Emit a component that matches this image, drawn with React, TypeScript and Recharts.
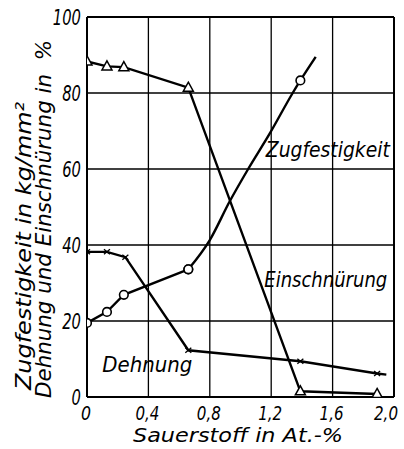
import React from 'react'
import {
  LineChart, Line, XAxis, YAxis, CartesianGrid, ReferenceLine, ReferenceDot
} from 'recharts'

const einX = [0, 0.13, 0.24, 0.66, 1.39, 1.89]
const einY = [88.3, 87, 86.8, 81.4, 1.5, 0.8]

const zugX = [0, 0.13, 0.24, 0.66, 0.8, 0.93, 1.05, 1.19, 1.34, 1.39, 1.49]
const zugY = [19.5, 22.4, 26.9, 33.6, 41.3, 51.5, 60, 69.3, 80, 83.3, 89.5]
const zugMark = [1, 1, 1, 1, 0, 0, 0, 0, 0, 1, 0]

const dehX = [0, 0.13, 0.25, 0.66, 1.39, 1.89, 1.95]
const dehY = [38.2, 38.2, 36.8, 12.3, 9.4, 6.2, 5.9]
const dehMark = [1, 1, 1, 1, 1, 1, 0]

const xTicks = [0, 0.4, 0.8, 1.2, 1.6, 2.0]
const yTicks = [0, 20, 40, 60, 80, 100]

const FONT = '"DejaVu Sans", sans-serif'
const txt = { fontFamily: FONT, fontStyle: 'italic' } as const

const einData = einX.map((x, i) => ({ x, y: einY[i], m: 1 }))
const zugData = zugX.map((x, i) => ({ x, y: zugY[i], m: zugMark[i] }))
const zugStraight = zugData.slice(0, 4)
const zugCurve = zugData.slice(3)
const dehData = dehX.map((x, i) => ({ x, y: dehY[i], m: dehMark[i] }))

const fmtX = (v: number) => (v === 0 ? '0' : v.toFixed(1).replace('.', ','))

function Triangle(props: any) {
  const { cx, cy } = props
  if (cx == null || cy == null) return null
  return <path d={`M${cx},${cy - 5.5} L${cx + 5},${cy + 3.5} L${cx - 5},${cy + 3.5} Z`}
    fill="#fff" stroke="#000" strokeWidth={1.5} />
}

function Circle(props: any) {
  const { cx, cy, payload } = props
  if (cx == null || !payload?.m) return null
  return <circle cx={cx} cy={cy} r={4.3} fill="#fff" stroke="#000" strokeWidth={1.6} />
}

function Cross(props: any) {
  const { cx, cy, payload } = props
  if (cx == null || !payload?.m) return null
  return <path d={`M${cx - 3},${cy - 2.5} L${cx + 3},${cy + 2.5} M${cx - 3},${cy + 2.5} L${cx + 3},${cy - 2.5}`}
    stroke="#000" strokeWidth={1.3} fill="none" />
}

// schmale Schrift nachbilden: Glyphen per textLength zusammenstauchen
function T(props: any) {
  const { len, children, ...rest } = props
  return (
    <text {...rest} style={txt} fill="#000" textLength={len} lengthAdjust="spacingAndGlyphs">
      {children}
    </text>
  )
}

function XTick(props: any) {
  const { x, y, payload } = props
  const s = fmtX(payload.value)
  return (
    <T x={Math.min(x - 1, 386)} y={y + 15} textAnchor="middle" fontSize={19}
      len={s.length === 1 ? 10 : 24}>
      {s}
    </T>
  )
}

function YTick(props: any) {
  const { x, y, payload } = props
  const s = String(payload.value)
  return (
    <T x={x + 1} y={y + 7.5} textAnchor="end" fontSize={21} len={s.length * 9.4}>
      {s}
    </T>
  )
}

function note(text: string, len: number) {
  return {
    content: (p: any) => (
      <T x={p.viewBox.x} y={p.viewBox.y} fontSize={21} len={len} textAnchor="start">{text}</T>
    ),
  }
}

function YLabel() {
  const cy1 = 246
  const cy2 = 219
  return (
    <g>
      <T x={31} y={cy1} textAnchor="middle" fontSize={21} len={288}
        transform={`rotate(-90, 31, ${cy1})`}>
        Zugfestigkeit in kg/mm²
      </T>
      <T x={51} y={cy2} textAnchor="middle" fontSize={21} len={358}
        transform={`rotate(-90, 51, ${cy2})`}>
        Dehnung und Einschnürung in{'\u00a0\u00a0'}%
      </T>
    </g>
  )
}

export default function App() {
  return (
    <div style={{ width: 404, height: 449, background: '#fff' }}>
      <style>{'body{margin:0}'}</style>
      <LineChart width={404} height={449} margin={{ top: 17, right: 10, bottom: 22, left: 27 }}>
        <CartesianGrid stroke="#000" strokeWidth={1.3} strokeOpacity={1}
          horizontalValues={yTicks} verticalValues={xTicks} />
        <XAxis type="number" dataKey="x" domain={[0, 2]} ticks={xTicks}
          allowDataOverflow height={30} tickLine={false}
          axisLine={{ stroke: '#000', strokeWidth: 2 }}
          tick={<XTick />}
          label={{
            content: () => (
              <T x={238} y={442} textAnchor="middle" fontSize={20} len={210}>
                Sauerstoff in At.-%
              </T>
            ),
          }} />
        <YAxis type="number" domain={[0, 100]} ticks={yTicks} width={60}
          allowDataOverflow tickLine={false} tickMargin={1}
          axisLine={{ stroke: '#000', strokeWidth: 2 }}
          tick={<YTick />}
          label={{ content: YLabel }} />
        <ReferenceLine y={100} stroke="#000" strokeWidth={2} />
        <ReferenceLine x={2} stroke="#000" strokeWidth={2} />
        <Line data={einData} dataKey="y" type="linear" stroke="#000" strokeWidth={2.4}
          dot={<Triangle />} activeDot={false} isAnimationActive={false} />
        <Line data={zugStraight} dataKey="y" type="linear" stroke="#000" strokeWidth={2.4}
          dot={<Circle />} activeDot={false} isAnimationActive={false} />
        <Line data={zugCurve} dataKey="y" type="monotone" stroke="#000" strokeWidth={2.4}
          dot={<Circle />} activeDot={false} isAnimationActive={false} />
        <Line data={dehData} dataKey="y" type="linear" stroke="#000" strokeWidth={2.4}
          dot={<Cross />} activeDot={false} isAnimationActive={false} />
        <ReferenceDot x={1.165} y={63.2} r={0} label={note('Zugfestigkeit', 124)} />
        <ReferenceDot x={1.155} y={29} r={0} label={note('Einschnürung', 123)} />
        <ReferenceDot x={0.1} y={6.6} r={0} label={note('Dehnung', 90)} />
      </LineChart>
    </div>
  )
}
